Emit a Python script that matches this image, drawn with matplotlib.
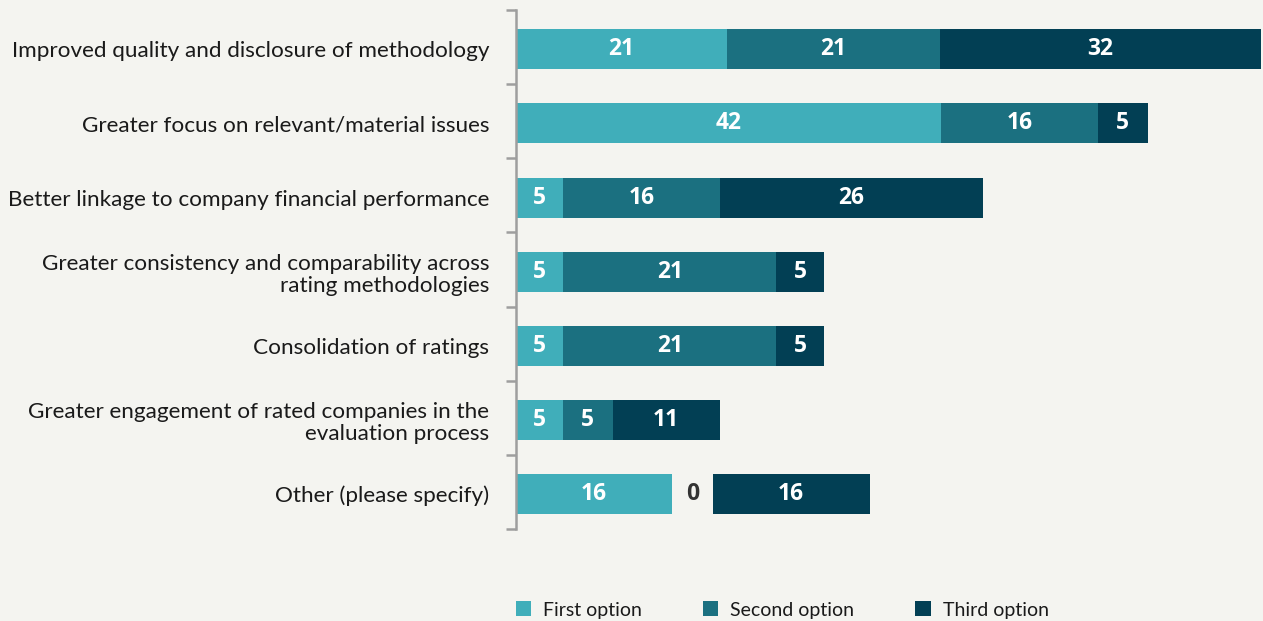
import matplotlib

matplotlib.use("Agg")
import matplotlib.pyplot as plt  # noqa: E402
import numpy as np  # noqa: E402
from matplotlib.patches import Patch  # noqa: E402

CATEGORIES = [
    "Improved quality and disclosure of methodology",
    "Greater focus on relevant/material issues",
    "Better linkage to company financial performance",
    "Greater consistency and comparability across\nrating methodologies",
    "Consolidation of ratings",
    "Greater engagement of rated companies in the\nevaluation process",
    "Other (please specify)",
]
FIRST_OPTION = [20.9, 42.1, 4.7, 4.7, 4.7, 4.7, 15.5]
SECOND_OPTION = [21.1, 15.5, 15.5, 21.1, 21.1, 4.9, 0.0]
THIRD_OPTION = [31.7, 4.9, 26.0, 4.7, 4.7, 10.6, 15.5]
SERIES_NAMES = ["First option", "Second option", "Third option"]

COLORS = ["#40AEBA", "#1B7080", "#023F54"]
BACKGROUND = "#F4F4F0"
SPINE_GRAY = "#9E9E9E"
ZERO_GAP = 4.0  # room left for the "0" label of an empty segment
ROW_SHIFT = 0.03

plt.rcParams["font.family"] = ["Lato", "DejaVu Sans"]

fig = plt.figure(figsize=(12.63, 6.21), dpi=100, facecolor=BACKGROUND)
ax = fig.add_axes([515.5 / 1263, 92 / 621, 747.5 / 1263, 519 / 621])
ax.set_facecolor(BACKGROUND)

y = np.arange(len(CATEGORIES)) + ROW_SHIFT
left = np.zeros(len(CATEGORIES))
for values, color in zip([FIRST_OPTION, SECOND_OPTION, THIRD_OPTION], COLORS):
    values = np.asarray(values)
    ax.barh(y, values, left=left, height=0.54, color=color, linewidth=0)
    for yy, start, value in zip(y, left, values):
        if value > 0:
            ax.text(start + value / 2, yy, f"{value:.0f}", ha="center", va="center",
                    color="white", fontsize=16.5, fontweight="bold", family="Open Sans")
        else:
            ax.text(start + ZERO_GAP / 2, yy, "0", ha="center", va="center",
                    color="#333333", fontsize=16.5, fontweight="bold", family="Open Sans")
    left = left + np.where(values > 0, values, ZERO_GAP)

ax.set_xlim(0, 73.9)
ax.set_ylim(len(CATEGORIES) - 0.5, -0.5)
ax.set_xticks([])
ax.set_yticks(y, CATEGORIES, fontsize=16.2, color="#1a1a1a", linespacing=1.15)
ax.tick_params(axis="y", which="major", length=0, pad=19)
ax.set_yticks(np.arange(len(CATEGORIES) + 1) - 0.5, minor=True)
ax.tick_params(axis="y", which="minor", length=7, width=1.8, color=SPINE_GRAY, direction="out")
ax.spines[["top", "right", "bottom"]].set_visible(False)
ax.spines["left"].set_color(SPINE_GRAY)
ax.spines["left"].set_linewidth(1.8)

handles = [Patch(facecolor=c, edgecolor="none") for c in COLORS]
fig.legend(handles, SERIES_NAMES, loc="center left", bbox_to_anchor=(498 / 1263, 11 / 621),
           ncol=3, frameon=False, fontsize=14, handlelength=0.8, handleheight=0.8,
           handletextpad=0.6, columnspacing=3.15, labelcolor="#1a1a1a")

fig.savefig("out.png", dpi=100, facecolor=BACKGROUND)
